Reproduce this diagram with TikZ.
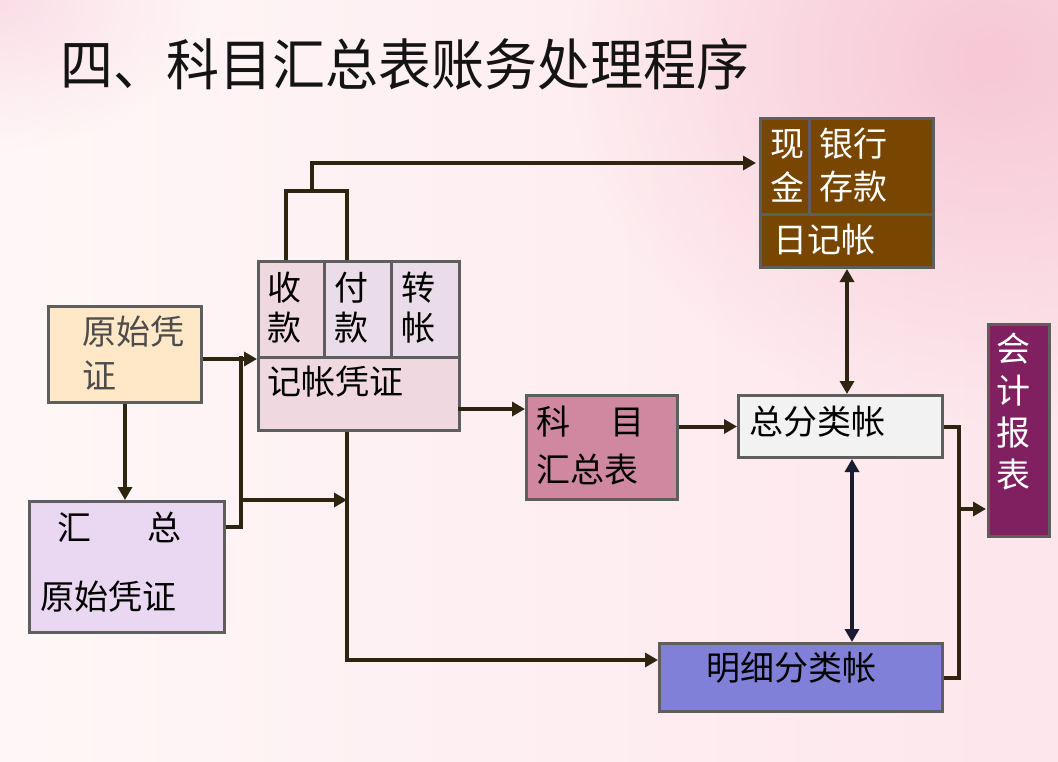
\documentclass[tikz,border=0pt]{standalone}
\usepackage{fontspec}
\setmainfont{Noto Sans CJK SC}
\usetikzlibrary{arrows.meta,fadings}
\definecolor{bgL}{HTML}{FFF7F7}
\definecolor{bgR}{HTML}{FDE6EC}
\definecolor{blob}{HTML}{F7C8D6}
\definecolor{bordergray}{HTML}{5E5E5E}
\definecolor{linecol}{HTML}{2E2410}
\definecolor{navyline}{HTML}{1A1A30}
\definecolor{peach}{HTML}{FFE8C8}
\definecolor{lav}{HTML}{EAD8F2}
\definecolor{cellA}{HTML}{F0D8E0}
\definecolor{cellB}{HTML}{EADCE8}
\definecolor{kmcol}{HTML}{D088A0}
\definecolor{zfcol}{HTML}{F2F2F2}
\definecolor{mxcol}{HTML}{8080D8}
\definecolor{brown}{HTML}{784600}
\definecolor{plum}{HTML}{802060}
\tikzfading[name=myfade, inner color=transparent!0, outer color=transparent!100]
\begin{document}
\begin{tikzpicture}[x=1pt,y=-1pt,
  box/.style={draw=bordergray, line width=3pt, rectangle, inner sep=0pt, anchor=north west},
  conn/.style={draw=linecol, line width=4pt},
  arr/.style={conn, -{Triangle[length=13pt,width=14pt]}},
  darr/.style={conn, {Triangle[length=13pt,width=14pt]}-{Triangle[length=13pt,width=14pt]}},
  txt/.style={anchor=west, inner sep=0pt, font=\fontsize{34}{34}\selectfont},
  wtxt/.style={txt, text=white}]
\useasboundingbox (0,0) rectangle (1058,761);
\fill[left color=bgL, right color=bgR] (0,0) rectangle (1058,761);
\fill[blob, path fading=myfade] (990,60) ellipse (420 and 360);
\fill[blob!60, path fading=myfade] (0,0) ellipse (200 and 150);

% title
\node[anchor=west, inner sep=0pt, text=black!92, yscale=1.05, font=\fontsize{53}{53}\selectfont] (title) at (60,64) {四、科目汇总表账务处理程序};

% boxes
\node[box, fill=peach, minimum width=153pt, minimum height=96pt] (yz) at (47,305) {};
\node[box, fill=lav, minimum width=195pt, minimum height=131pt] (hz) at (28,500) {};
\node[box, fill=cellA, minimum width=66pt, minimum height=96pt] (c1) at (257,260) {};
\node[box, fill=cellB, minimum width=67pt, minimum height=96pt] (c2) at (323,260) {};
\node[box, fill=cellB, minimum width=68pt, minimum height=96pt] (c3) at (390,260) {};
\node[box, fill=cellA, minimum width=201pt, minimum height=73pt] (jzb) at (257,356) {};
\node[box, fill=kmcol, minimum width=151pt, minimum height=104pt] (km) at (525,394) {};
\node[box, fill=zfcol, minimum width=204pt, minimum height=62pt] (zf) at (737,394) {};
\node[box, fill=mxcol, minimum width=283pt, minimum height=68pt] (mx) at (658,642) {};
\node[box, fill=brown, minimum width=173pt, minimum height=149pt] (xj) at (759,117) {};
\node[box, fill=brown, minimum width=49pt, minimum height=96pt] (xj1) at (759,117) {};
\node[box, fill=brown, minimum width=124pt, minimum height=96pt] (xj2) at (808,117) {};
\node[box, fill=brown, minimum width=173pt, minimum height=53pt] (xj3) at (759,213) {};
\node[box, fill=plum, minimum width=61pt, minimum height=212pt] (kb) at (987,323) {};

% texts
\node[txt, text=black!70] (t1) at (82,332) {原始凭};
\node[txt, text=black!70] (t2) at (82,376) {证};
\node[txt] (t3) at (57,527) {汇\hspace{56pt}总};
\node[txt] (t4) at (40,597) {原始凭证};
\node[txt] (t5) at (267,288) {收};
\node[txt] (t6) at (267,328) {款};
\node[txt] (t7) at (334,288) {付};
\node[txt] (t8) at (334,328) {款};
\node[txt] (t9) at (401,288) {转};
\node[txt] (t10) at (401,328) {帐};
\node[txt] (t11) at (267,382) {记帐凭证};
\node[wtxt] (t12) at (770,144) {现};
\node[wtxt] (t13) at (770,187) {金};
\node[wtxt] (t14) at (819,144) {银行};
\node[wtxt] (t15) at (819,187) {存款};
\node[wtxt] (t16) at (773,240) {日记帐};
\node[txt] (t17) at (536,422) {科\hspace{40pt}目};
\node[txt] (t18) at (536,470) {汇总表};
\node[txt] (t19) at (749,422) {总分类帐};
\node[txt] (t20) at (706,668) {明细分类帐};
\node[wtxt, anchor=center] (t21) at (1013,349) {会};
\node[wtxt, anchor=center] (t22) at (1013,391) {计};
\node[wtxt, anchor=center] (t23) at (1013,433) {报};
\node[wtxt, anchor=center] (t24) at (1013,475) {表};

% helper coordinates
\coordinate (jl) at (241,356);
\coordinate (jlb) at (241,527);
\coordinate (jm) at (241,500);
\coordinate (jv) at (347,500);
\coordinate (bv) at (347,660);
\coordinate (bl) at (286,191);
\coordinate (br) at (347,191);
\coordinate (bt) at (312,163);
\coordinate (ka) at (458,409);
\coordinate (dx) at (852,0);
\coordinate (rv) at (959,0);
\coordinate (ra) at (959,509);

% connectors
\draw[arr] (yz.south) -- (yz.south |- hz.north);
\draw[arr] (yz.east |- c1.south west) -- (c1.south west);
\draw[conn] (jlb -| hz.east) -- (jlb) -- (jl);
\draw[arr] (jm) -- (jv);
\draw[arr] (jzb.south -| bv) -- (bv) -- (bv -| mx.west);
\draw[conn] (bl |- c1.north) -- (bl) -- (br) -- (br |- c2.north);
\draw[arr] (bt |- bl) -- (bt) -- ([xshift=-3pt]bt -| xj.west);
\draw[arr] (ka) -- (ka -| km.west);
\draw[arr] (km.east |- zf.west) -- (zf.west);
\draw[darr] (xj.south) -- (xj.south |- zf.north);
\draw[darr, draw=navyline] (zf.south -| dx) -- (mx.north -| dx);
\draw[conn] (zf.east) -- (zf.east -| rv) -- (mx.east -| rv) -- (mx.east);
\draw[arr] (ra) -- ([xshift=-1pt]ra -| kb.west);
\end{tikzpicture}
\end{document}
